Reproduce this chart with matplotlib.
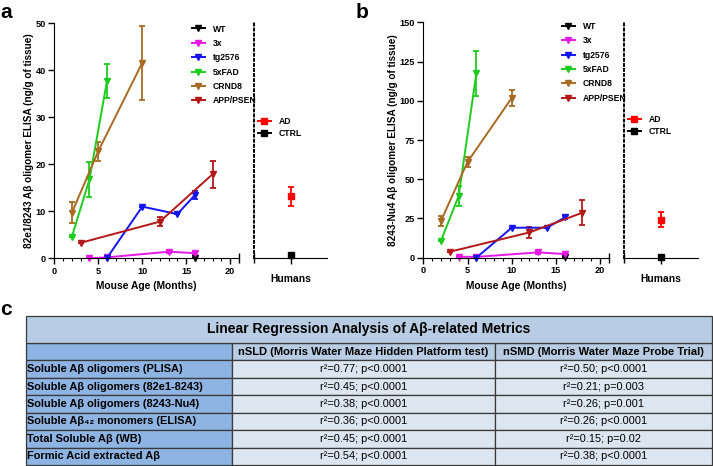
import numpy as np
import matplotlib
matplotlib.use('Agg')
import matplotlib.pyplot as plt
from matplotlib.lines import Line2D
from matplotlib.ticker import MultipleLocator

plt.rcParams['font.family'] = ['Liberation Sans', 'DejaVu Sans']

# ---- data ----
strains = ['WT', '3x', 'tg2576', '5xFAD', 'CRND8', 'APP/PSEN']
strain_colors = ['#000000', '#e619e6', '#1414f0', '#1ecc1e', '#a86a22', '#b41818']

ages = {
    'WT': [16],
    '3x': [4, 6, 13, 16],
    'tg2576': [6, 10, 14, 16],
    '5xFAD': [2, 4, 6],
    'CRND8': [2, 5, 10],
    'APP/PSEN': [3, 12, 18],
}

# panel a : 82e1/8243 ELISA
a_mean = {
    'WT': [0.1],
    '3x': [0.0, 0.2, 1.4, 1.1],
    'tg2576': [0.1, 11.0, 9.4, 13.5],
    '5xFAD': [4.6, 16.8, 37.8],
    'CRND8': [9.7, 22.8, 41.6],
    'APP/PSEN': [3.3, 7.8, 17.9],
}
a_err = {
    'WT': [0],
    '3x': [0, 0, 0.3, 0.3],
    'tg2576': [0, 0, 0, 0.8],
    '5xFAD': [0, 3.7, 3.6],
    'CRND8': [2.2, 2.0, 7.9],
    'APP/PSEN': [0, 0.9, 2.9],
}

# panel b : 8243-Nu4 ELISA
b_mean = {
    'WT': [0.3],
    '3x': [0.6, 0.5, 3.4, 2.3],
    'tg2576': [0.0, 19.1, 19.1, 25.7],
    '5xFAD': [10.8, 39.3, 117.5],
    'CRND8': [23.5, 61.0, 101.8],
    'APP/PSEN': [3.8, 16.1, 28.7],
}
b_err = {
    'WT': [0],
    '3x': [0, 0, 0.8, 0.8],
    'tg2576': [0, 0, 0, 1.0],
    '5xFAD': [0, 6.3, 14.3],
    'CRND8': [3.0, 3.3, 5.0],
    'APP/PSEN': [0, 3.4, 8.0],
}

human_groups = ['AD', 'CTRL']
human_colors = ['#ff0000', '#000000']
a_human = [13.2, 0.8]
a_human_err = [2.0, 0]
b_human = [24.2, 0.4]
b_human_err = [4.9, 0]

# panel c : table
table_title = 'Linear Regression Analysis of A\u03b2-related Metrics'
col_headers = ['', 'nSLD (Morris Water Maze Hidden Platform test)',
               'nSMD (Morris Water Maze Probe Trial)']
metrics = ['Soluble A\u03b2 oligomers (PLISA)',
           'Soluble A\u03b2 oligomers (82e1-8243)',
           'Soluble A\u03b2 oligomers (8243-Nu4)',
           'Soluble A\u03b2\u2084\u2082 monomers (ELISA)',
           'Total Soluble A\u03b2 (WB)',
           'Formic Acid extracted A\u03b2']
nsld_r2 = ['0.77', '0.45', '0.38', '0.36', '0.45', '0.54']
nsld_p = ['<0.0001'] * 6
nsmd_r2 = ['0.50', '0.21', '0.26', '0.26', '0.15', '0.38']
nsmd_p = ['<0.0001', '=0.003', '=0.001', '<0.0001', '=0.02', '<0.0001']

W, H = 713, 466
fig = plt.figure(figsize=(W / 100, H / 100), dpi=100)


def fx(px):
    return px / W


def fy(px):
    return 1 - px / H


def panel(x0, x1, hx0, hx1, ytop, ybot, mean, err, hmean, herr, ymax, ystep,
          ylabel, leg_xy, hleg_xy):
    ax = fig.add_axes([fx(x0), fy(ybot), fx(x1 - x0), (ybot - ytop) / H])
    for s, c in zip(strains, strain_colors):
        ax.errorbar(ages[s], mean[s], yerr=err[s], color=c, marker='v',
                    markersize=5, lw=1.4, elinewidth=1.3, capsize=2.3,
                    capthick=1.3, clip_on=False)
    ax.set_xlim(0, 21)
    ax.set_ylim(0, ymax)
    ax.set_xticks([0, 5, 10, 15, 20, 21], ['0', '5', '10', '15', '20', ''])
    ax.xaxis.set_minor_locator(MultipleLocator(1))
    ax.set_yticks(np.arange(0, ymax + 1, ystep))
    for sp in ['top', 'right']:
        ax.spines[sp].set_visible(False)
    ax.tick_params(which='major', length=4, width=1, labelsize=6.6, pad=2)
    ax.tick_params(which='minor', length=2.2, width=0.8)
    for lab in ax.get_xticklabels() + ax.get_yticklabels():
        lab.set_fontweight('bold')
    end_tick = ax.xaxis.get_major_ticks()[-1]
    end_tick.tick1line.set_marker('|')
    end_tick.tick1line.set_markersize(7)
    ax.set_xlabel('Mouse Age (Months)', fontsize=7.4, fontweight='bold', labelpad=4)
    ax.set_ylabel(ylabel, fontsize=7.2, fontweight='bold', labelpad=1.5)

    handles = [Line2D([], [], color=c, marker='v', markersize=5, lw=1.4)
               for c in strain_colors]
    ax.legend(handles, strains, loc='upper left', frameon=False,
              prop={'weight': 'bold', 'size': 6.2},
              bbox_to_anchor=(fx(leg_xy[0]), fy(leg_xy[1])),
              bbox_transform=fig.transFigure, borderpad=0, borderaxespad=0,
              handlelength=1.5, handletextpad=0.9, labelspacing=0.62)

    hx = fig.add_axes([fx(hx0), fy(ybot), fx(hx1 - hx0), (ybot - ytop) / H])
    hx.patch.set_visible(False)
    for i, (g, c) in enumerate(zip(human_groups, human_colors)):
        hx.errorbar([1], [hmean[i]], yerr=[herr[i]], color=c, marker='s',
                    markersize=4.5, lw=1.4, elinewidth=1.3, capsize=2.3,
                    capthick=1.3, clip_on=False)
    hx.set_xlim(0, 2)
    hx.set_ylim(0, ymax)
    hx.set_yticks([])
    hx.set_xticks([0, 1], ['', ''])
    hx.tick_params(length=4, width=1)
    t0 = hx.xaxis.get_major_ticks()[0]
    t0.tick1line.set_marker('|')
    t0.tick1line.set_markersize(7)
    for sp in ['top', 'right']:
        hx.spines[sp].set_visible(False)
    hx.spines['left'].set_linestyle((0, (1, 1.6)))
    hx.spines['left'].set_linewidth(1.4)
    hx.set_xlabel('Humans', fontsize=7.4, fontweight='bold', labelpad=4)
    hh = [Line2D([], [], color=c, marker='s', markersize=4.5, lw=1.4)
          for c in human_colors]
    hx.legend(hh, human_groups, loc='upper left', frameon=False,
              prop={'weight': 'bold', 'size': 6.2},
              bbox_to_anchor=(fx(hleg_xy[0]), fy(hleg_xy[1])),
              bbox_transform=fig.transFigure, borderpad=0, borderaxespad=0,
              handlelength=1.5, handletextpad=0.9, labelspacing=0.3)


panel(54.3, 239, 254, 327, 23.3, 258.3, a_mean, a_err, a_human, a_human_err,
      50, 10, '82e1/8243 A\u03b2 oligomer ELISA (ng/g of tissue)',
      (192, 24.5), (258, 117))
panel(423.3, 609, 624, 698, 22.3, 257.7, b_mean, b_err, b_human, b_human_err,
      150, 25, '8243-Nu4 A\u03b2 oligomer ELISA (ng/g of tissue)',
      (562, 22), (628, 115))

fig.text(fx(0), fy(18.3), 'a', fontsize=15, fontweight='bold', va='baseline')
fig.text(fx(356), fy(18.3), 'b', fontsize=15, fontweight='bold', va='baseline')
fig.text(fx(0), fy(315), 'c', fontsize=15, fontweight='bold', va='baseline')

# ---- table ----
tx = fig.add_axes([fx(26), fy(465), fx(686), 149 / H])
tx.axis('off')
light = '#b8cce4'
mid = '#8db4e2'
pale = '#dce6f1'
edge = '#3a3a3a'
col_w = [206 / 686, 263 / 686, 217 / 686]
body_h = 122 / 149

rows = [col_headers]
colors = [[mid, light, light]]
for m, r1, p1, r2, p2 in zip(metrics, nsld_r2, nsld_p, nsmd_r2, nsmd_p):
    rows.append([m, 'r\u00b2=' + r1 + '; p' + p1, 'r\u00b2=' + r2 + '; p' + p2])
    colors.append([mid, pale, pale])

tbl = tx.table(cellText=rows, cellColours=colors, colWidths=col_w,
               cellLoc='center', bbox=[0, 0, 1, body_h])
tbl.auto_set_font_size(False)
tbl.set_fontsize(7.9)
for (r, c), cell in tbl.get_celld().items():
    cell.set_edgecolor(edge)
    cell.set_linewidth(0.9)
    txt = cell.get_text()
    if c == 0:
        cell._loc = 'left'
        cell.PAD = 0.006
        txt.set_ha('left')
        txt.set_fontweight('bold')
    if r == 0:
        txt.set_fontweight('bold')
        txt.set_fontsize(8.0)

ttl = tx.table(cellText=[[table_title]], cellColours=[[light]], colWidths=[1],
               cellLoc='center', bbox=[0, body_h, 1, 1 - body_h])
ttl.auto_set_font_size(False)
ttl.set_fontsize(10)
for cell in ttl.get_celld().values():
    cell.set_edgecolor(edge)
    cell.set_linewidth(0.9)
    cell.get_text().set_fontweight('bold')

fig.savefig('out.png', dpi=100)
